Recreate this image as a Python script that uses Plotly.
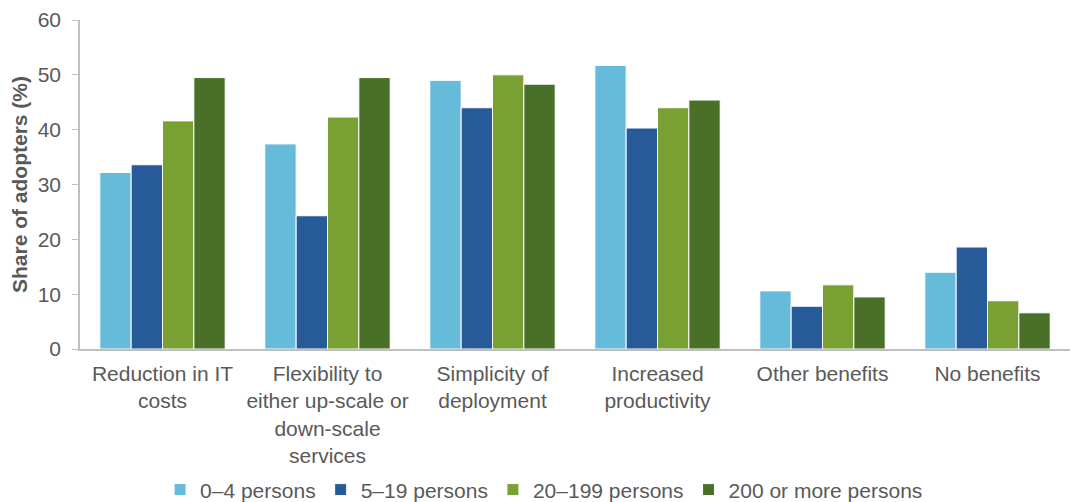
import plotly.graph_objects as go

categories = [
    "Reduction in IT<br>costs",
    "Flexibility to<br>either up-scale or<br>down-scale<br>services",
    "Simplicity of<br>deployment",
    "Increased<br>productivity",
    "Other benefits",
    "No benefits",
]
series_names = ["0–4 persons", "5–19 persons", "20–199 persons", "200 or more persons"]
s_0_4 = [32.2, 37.4, 49.0, 51.7, 10.6, 14.0]
s_5_19 = [33.6, 24.3, 44.0, 40.3, 7.8, 18.6]
s_20_199 = [41.6, 42.3, 50.0, 44.0, 11.7, 8.8]
s_200 = [49.5, 49.5, 48.3, 45.4, 9.5, 6.6]
colors = ["#66BBDA", "#265A98", "#78A032", "#4A7028"]

fig = go.Figure()
for name, vals, col in zip(series_names, [s_0_4, s_5_19, s_20_199, s_200], colors):
    fig.add_trace(go.Bar(
        x=categories, y=vals, name=name,
        marker=dict(color=col, line=dict(color="white", width=1)),
    ))

font_family = "Liberation Sans, Arial, sans-serif"
text_col = "#595959"
axis_col = "#BFBFBF"

fig.update_layout(
    width=1071, height=502,
    margin=dict(l=80, r=1, t=20, b=153),
    paper_bgcolor="white", plot_bgcolor="white",
    barmode="group", bargap=0.24, bargroupgap=0,
    font=dict(family=font_family, color=text_col, size=21),
    showlegend=True,
    legend=dict(
        orientation="h", xref="container", yref="container",
        x=0.508, xanchor="center", y=0.024, yanchor="middle",
        font=dict(size=21, color=text_col), itemwidth=30, traceorder="normal",
    ),
    xaxis=dict(
        showline=True, linecolor=axis_col, linewidth=1.5, ticks="",
        tickfont=dict(size=21, color=text_col), showgrid=False,
        automargin=False, ticklabelstandoff=5,
    ),
    yaxis=dict(
        range=[0, 60], dtick=10, showline=True, linecolor=axis_col, linewidth=1.5,
        ticks="outside", ticklen=6, tickcolor=axis_col, showgrid=False,
        tickfont=dict(size=21, color=text_col), ticklabelstandoff=7,
        automargin=False,
        title=dict(text="Share of adopters (%)", font=dict(size=21, color=text_col, weight="bold"), standoff=4),
        zeroline=False,
    ),
)

fig.write_html(
    "out.html",
    config={"displayModeBar": False},
    post_script="document.body.style.margin='0';document.body.style.overflow='hidden';",
)
